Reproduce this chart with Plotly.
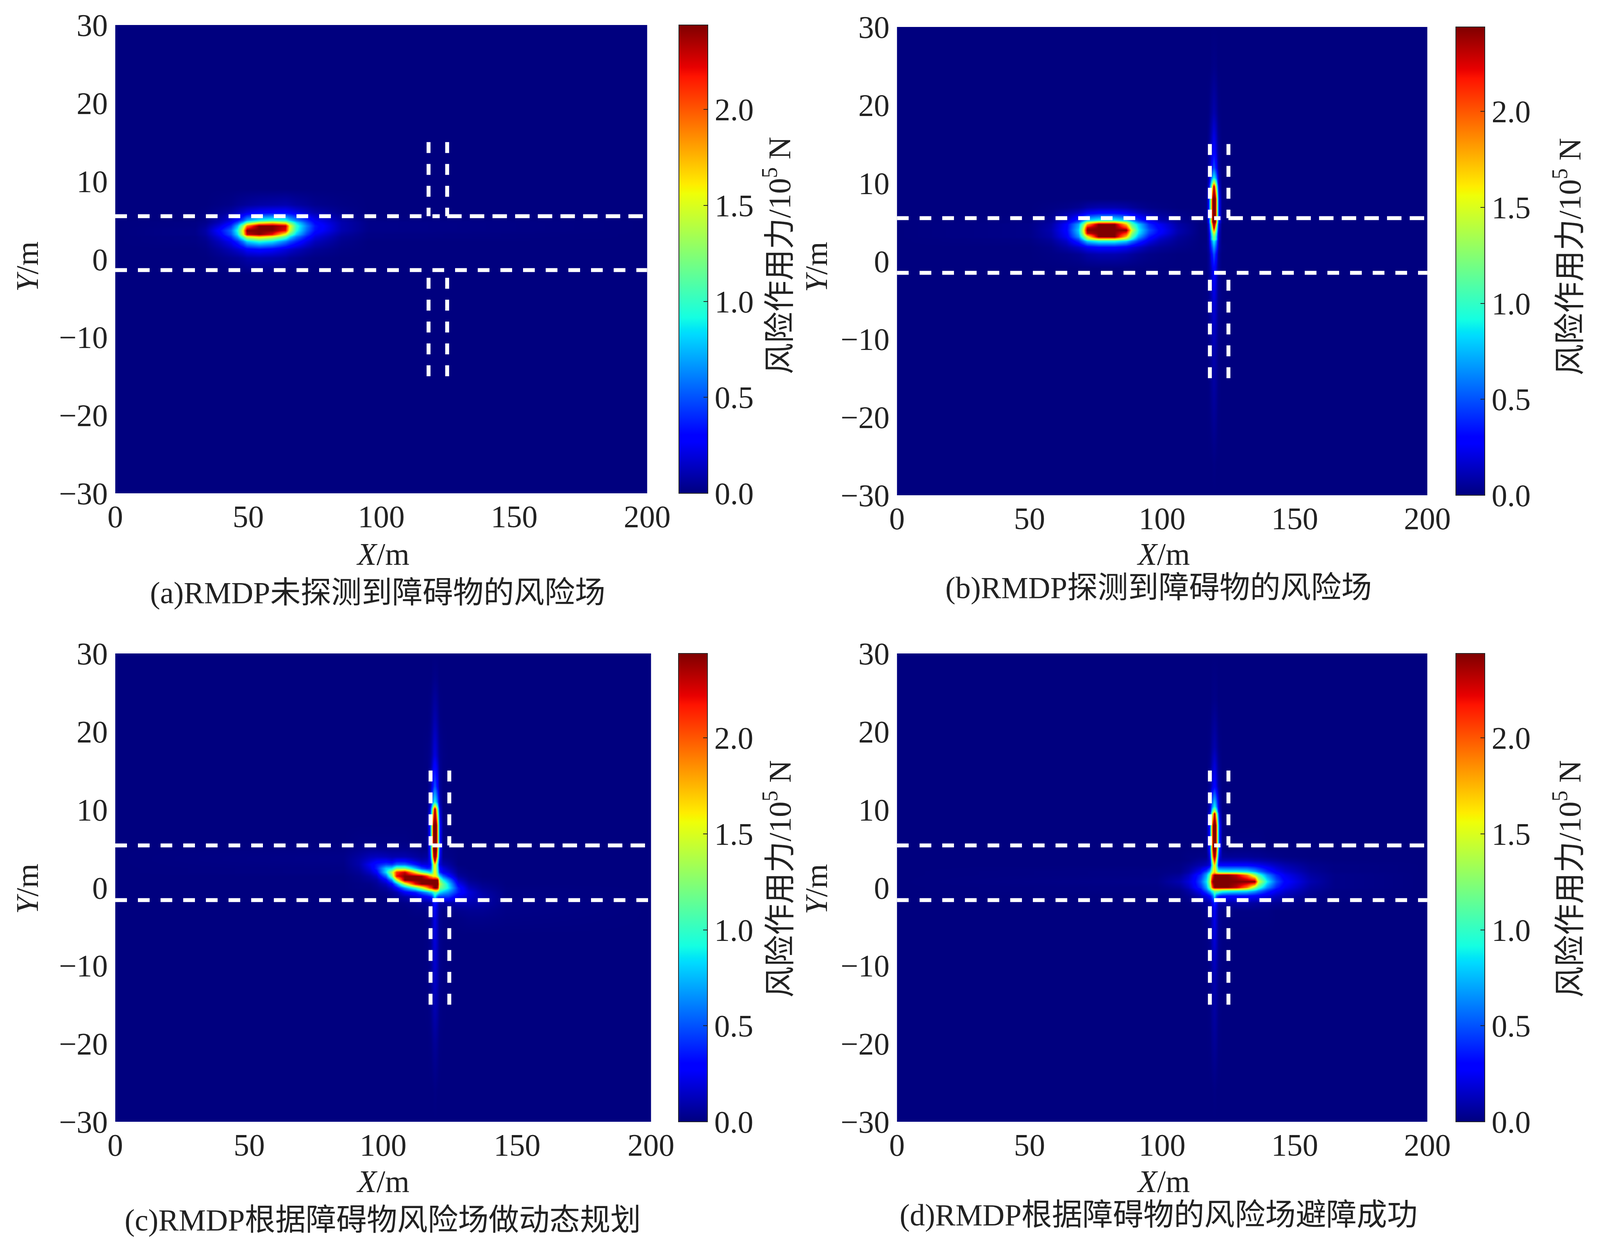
import plotly.graph_objects as go

# reference picture size, only used to turn pixel positions into fractions
W, H = 4151, 3208

# jet, same break points as matplotlib
jet = [[0, "rgb(0,0,127)"], [0.11, "rgb(0,0,255)"], [0.125, "rgb(0,0,255)"],
       [0.34, "rgb(0,219,255)"], [0.35, "rgb(0,229,247)"], [0.375, "rgb(20,255,226)"],
       [0.64, "rgb(239,255,8)"], [0.65, "rgb(247,246,0)"], [0.66, "rgb(255,236,0)"],
       [0.89, "rgb(255,20,0)"], [0.91, "rgb(232,0,0)"], [1, "rgb(127,0,0)"]]

x_ticks = [0, 50, 100, 150, 200]
y_ticks = [-30, -20, -10, 0, 10, 20, 30]
cb_ticks = [0, 0.5, 1, 1.5, 2]
captions = ["(a)RMDP未探测到障碍物的风险场", "(b)RMDP探测到障碍物的风险场",
            "(c)RMDP根据障碍物风险场做动态规划", "(d)RMDP根据障碍物的风险场避障成功"]

# road edges per panel: top y, bottom y, left lane x, right lane x
road_top = [5.5, 5.5, 5.4, 5.4]
road_bot = [-1.4, -1.5, -1.6, -1.6]
lane_l = [117.8, 118, 117.7, 118]
lane_r = [124.8, 125, 124.7, 125]

# panel a field
a_x = [0, 30, 34, 39, 43.5, 46, 48, 49.5, 54, 59, 64, 65.5, 68, 72, 75, 85, 95, 200]
a_y = [-30, -2, 0.2, 1.3, 2.3, 2.9, 3.2, 3.7, 4.3, 4.7, 5.0, 6.0, 7.0, 9, 30]
a_z = [
    [0] * 18,
    [0] * 18,
    [0, 0, 0, .02, .04, .05, .07, .09, .1, .09, .07, .05, .04, .02, .01, 0, 0, 0],
    [0, 0, .01, .06, .12, .17, .22, .28, .32, .28, .2, .17, .13, .08, .05, .01, 0, 0],
    [0, .01, .03, .13, .25, .4, .6, .8, .95, .85, .6, .5, .38, .22, .13, .03, 0, 0],
    [0, .01, .05, .2, .4, .7, 1.1, 1.5, 1.7, 1.5, 1.1, .85, .6, .35, .2, .05, .01, 0],
    [0, .02, .07, .25, .5, .85, 1.5, 2.3, 2.44, 2.2, 1.5, 1.15, .8, .45, .25, .07, .01, 0],
    [0, .02, .08, .3, .55, .95, 1.6, 2.44, 2.44, 2.44, 2.2, 1.5, .95, .55, .33, .1, .02, 0],
    [0, .01, .05, .2, .4, .75, 1.3, 1.9, 2.44, 2.44, 2.3, 1.6, 1.0, .6, .35, .1, .02, 0],
    [0, .01, .03, .13, .28, .5, .8, 1.15, 1.55, 1.7, 1.5, 1.2, .85, .5, .3, .1, .02, 0],
    [0, 0, .02, .1, .2, .33, .5, .7, .9, 1.0, .95, .8, .6, .4, .25, .08, .01, 0],
    [0, 0, .01, .04, .08, .13, .18, .22, .28, .3, .3, .27, .22, .15, .1, .03, 0, 0],
    [0, 0, 0, .01, .02, .04, .05, .06, .08, .09, .1, .09, .07, .05, .03, .01, 0, 0],
    [0] * 18,
    [0] * 18,
]

# cross sections of the narrow vertical streak, read at 13 columns
s000 = [0] * 13
s001 = [0, 0, 0, 0, 0, .005, .01, .005, 0, 0, 0, 0, 0]
s002 = [0, 0, 0, 0, .01, .015, .02, .015, .01, 0, 0, 0, 0]
s005 = [0, 0, .005, .01, .025, .04, .05, .04, .025, .01, .005, 0, 0]
s010 = [0, 0, .01, .03, .05, .08, .1, .08, .05, .03, .01, 0, 0]
s015 = [0, .005, .02, .05, .08, .12, .15, .12, .08, .05, .02, .005, 0]
s020 = [0, .01, .03, .06, .1, .16, .2, .16, .1, .06, .03, .01, 0]
s030 = [0, 0, .04, .08, .14, .24, .3, .24, .14, .08, .04, 0, 0]
s050 = [0, 0, .05, .12, .25, .38, .5, .38, .25, .12, .05, 0, 0]
s070 = [0, .01, .08, .22, .38, .55, .7, .55, .38, .22, .08, .01, 0]
s090 = [0, 0, .1, .3, .5, .75, .9, .75, .5, .3, .1, 0, 0]
s120 = [0, 0, .12, .35, .65, 1.0, 1.2, 1.0, .65, .35, .12, 0, 0]
s150 = [0, 0, .14, .4, .75, 1.2, 1.5, 1.2, .75, .4, .14, 0, 0]
s200 = [0, 0, .16, .5, .9, 1.5, 2.0, 1.5, .9, .5, .16, 0, 0]
s_tip = [0, 0, .18, .6, 1.0, 1.7, 2.44, 1.7, 1.0, .6, .18, 0, 0]
s_mid = [0, 0, .2, .7, 1.2, 2.1, 2.44, 2.1, 1.2, .7, .2, 0, 0]
s_full = [0, .02, .3, .9, 1.5, 2.44, 2.44, 2.44, 1.5, .9, .3, .02, 0]

# panel b field
b_x = [0, 50, 58, 64, 68.5, 70.2, 71.7, 76, 82, 86.5, 88.5, 91, 95, 99, 106,
       114.5, 116.6, 117.6, 118.05, 118.4, 118.95, 119.5, 120.05, 120.6, 120.95, 121.4, 122.5, 124.5,
       200]
b_y = [-30, -26, -20, -12, -5, -1, .9, 1.8, 2.6, 2.85, 3.15, 3.6, 4, 4.3, 4.75, 5.05, 5.25, 6.2, 6.9,
       8, 9.6, 10.1, 10.7, 12, 14, 19, 25, 30]
b0 = [0] * 15
b_left = [b0] * 6 + [
    [0, 0, .01, .02, .04, .06, .08, .1, .1, .08, .06, .04, .02, .01, 0],
    [0, 0, .02, .08, .15, .2, .25, .3, .3, .25, .2, .15, .08, .05, .02],
    [0, .01, .05, .16, .4, .6, .8, .95, .95, .8, .6, .42, .22, .12, .04],
    [0, .01, .06, .2, .5, .85, 1.3, 1.6, 1.6, 1.3, .9, .55, .28, .15, .05],
    [0, .02, .08, .25, .65, 1.1, 1.5, 2.44, 2.44, 1.7, 1.1, .7, .35, .2, .06],
    [0, .02, .09, .28, .75, 1.4, 2.3, 2.44, 2.44, 2.1, 1.3, .85, .45, .28, .09],
    [0, .02, .1, .3, .8, 1.5, 2.44, 2.44, 2.44, 2.44, 1.5, .9, .5, .3, .1],
    [0, .02, .09, .29, .75, 1.4, 2.3, 2.44, 2.44, 2.1, 1.3, .85, .45, .28, .09],
    [0, .02, .08, .28, .7, 1.2, 1.8, 2.44, 2.44, 1.7, 1.1, .8, .4, .25, .08],
    [0, .01, .06, .2, .5, .85, 1.3, 1.6, 1.6, 1.3, .9, .55, .3, .17, .05],
    [0, .01, .05, .16, .4, .6, .8, .95, .95, .8, .6, .42, .22, .12, .04],
    [0, 0, .02, .08, .15, .2, .25, .3, .3, .25, .2, .15, .08, .05, .02],
    [0, 0, .01, .02, .04, .06, .08, .1, .1, .08, .06, .04, .02, .01, 0],
] + [b0] * 9
b_mid = [s000, s001, s005, s010, s020, s030, s050, s070, s090, s120, s120, s150, s200, s_tip, s_mid,
         s_full, s_full, s_full, s_full, s_full, s_tip, s150, s090, s050, s030, s010, s002, s000]
b_z = [l + m + [0] for l, m in zip(b_left, b_mid)]

# panel c field
c_x = [0, 85, 91, 95, 97.5, 101, 103.3, 105, 108, 112,
       114.3, 116.3, 117.4, 117.85, 118.2, 118.75, 119.3, 119.85, 120.4, 120.75, 121.2, 122.3, 124.3,
       128, 132, 137, 146, 200]
c_y = [-30, -26, -20, -12, -6, -4, -3, -2, -1.2, -.6, 0, .5, 1, 1.5, 2, 2.5, 3, 3.5, 4, 5, 6,
       8, 10.1, 10.5, 11, 13, 17, 21.7, 27, 30]
c0 = [0] * 10
c_left = [c0] * 5 + [
    c0,
    [0, 0, 0, 0, 0, 0, 0, 0, 0, .01],
    [0, 0, 0, 0, 0, 0, .01, .01, .02, .03],
    [0, 0, 0, 0, 0, .01, .03, .05, .09, .15],
    [0, 0, 0, 0, .01, .03, .06, .1, .27, .38],
    [0, 0, .01, .01, .03, .07, .15, .3, .65, 1.05],
    [0, 0, .01, .02, .05, .14, .3, .65, 1.4, 2.2],
    [0, 0, .02, .05, .08, .28, .65, 1.4, 2.44, 2.44],
    [0, 0, .03, .08, .16, .55, 1.2, 2.2, 2.44, 2.44],
    [0, .01, .05, .15, .28, .85, 1.4, 2.1, 2.3, 1.6],
    [0, .01, .07, .21, .38, .8, .85, 1.2, 1.2, .75],
    [0, .015, .09, .25, .35, .45, .42, .55, .55, .35],
    [0, .02, .09, .18, .24, .25, .2, .28, .27, .15],
    [0, .02, .07, .12, .13, .12, .1, .1, .1, .07],
    [0, .01, .03, .04, .04, .03, .03, .03, .03, .02],
    [0, 0, .01, .01, .01, .01, .01, .01, .01, 0],
] + [c0] * 9
c_mid = [s000, s001, s005, s015, s020,
         [0, .01, .03, .06, .1, .16, .22, .16, .1, .06, .03, .01, 0],
         [.01, .02, .04, .07, .12, .18, .25, .18, .12, .07, .04, .01, .02],
         [.05, .06, .07, .1, .15, .24, .35, .24, .15, .1, .07, .07, .08],
         [.22, .28, .32, .36, .42, .6, .85, .6, .45, .42, .42, .42, .42],
         [.55, .7, .8, .82, .9, .98, 1.1, 1.15, 1.0, .95, .85, .75, .65],
         [1.4, 1.8, 2.05, 2.1, 2.2, 2.35, 2.44, 2.44, 2.3, 1.75, 1.2, 1.1, .9],
         [2.44, 2.44, 2.44, 2.44, 2.44, 2.44, 2.44, 2.44, 2.44, 1.9, 1.4, 1.15, .85],
         [2.44, 2.44, 2.44, 2.44, 2.44, 2.44, 2.44, 2.44, 2.4, 1.7, 1.2, .9, .65],
         [2.4, 2.1, 1.85, 1.8, 1.7, 1.6, 1.6, 1.5, 1.2, .95, .8, .55, .35],
         [1.15, .98, .85, .85, 1.0, 1.35, 1.6, 1.35, .95, .6, .4, .25, .2],
         [.5, .38, .4, .5, .85, 1.3, 1.55, 1.3, .85, .5, .3, .2, .12],
         [.2, .2, .25, .4, .8, 1.3, 1.7, 1.3, .8, .4, .2, .1, .07],
         [.1, .12, .25, .55, 1.0, 1.7, 2.44, 1.7, 1.0, .55, .2, .06, .04],
         [.05, .07, .25, .7, 1.3, 2.2, 2.44, 2.2, 1.3, .7, .25, .03, .02],
         [.01, .02, .3, .9, 1.5, 2.44, 2.44, 2.44, 1.5, .9, .3, .02, .01],
         s_full, s_full, s_tip, s150, s090, s050, s020, s010, s002, s000]
c_right = [[0] * 5] * 5 + [
    [.01, .02, .02, .01, 0],
    [.03, .04, .04, .015, 0],
    [.1, .1, .08, .02, 0],
    [.22, .17, .1, .01, 0],
    [.36, .19, .08, .01, 0],
    [.36, .13, .05, .005, 0],
    [.25, .08, .03, 0, 0],
    [.15, .04, .01, 0, 0],
    [.07, .02, 0, 0, 0],
    [.03, .01, 0, 0, 0],
    [.02, 0, 0, 0, 0],
] + [[0] * 5] * 14
c_z = [l + m + r for l, m, r in zip(c_left, c_mid, c_right)]

# panel d field
d_x = [0, 98, 106.5, 110, 112.3, 114.5,
       114.7, 116.7, 117.8, 118.25, 118.6, 119.15, 119.7, 120.25, 120.8, 121.15, 121.6, 122.7, 124.7,
       128, 132, 135, 136.3, 139.5, 143, 146.3, 156, 165, 200]
d_y = [-30, -26, -20, -12, -6, -3, -2, -1.1, -.45, -.2, .05, .8, 1.65, 1.9, 2.1, 2.9, 3.5, 4, 5,
       8, 9.5, 9.8, 10.4, 13, 18, 24, 30]
d0 = [0] * 6
d_left = [d0] * 6 + [
    [0, 0, 0, .01, .02, .03],
    [0, 0, .01, .04, .07, .12],
    [0, .01, .02, .08, .16, .25],
    [0, .01, .03, .1, .2, .3],
    [0, .01, .05, .14, .26, .4],
    [0, .02, .1, .2, .3, .5],
    [0, .01, .05, .14, .26, .4],
    [0, .01, .03, .1, .2, .3],
    [0, .01, .02, .08, .16, .25],
    [0, 0, .01, .04, .07, .1],
    [0, 0, 0, .01, .03, .05],
    [0, 0, 0, .01, .01, .02],
] + [d0] * 9
d_mid = [s000, s001, s005, s010, s020,
         [.01, .02, .04, .07, .12, .18, .25, .18, .12, .07, .04, .02, .01],
         [.04, .06, .08, .12, .18, .28, .4, .28, .18, .12, .08, .08, .08],
         [.14, .22, .3, .35, .42, .6, .9, .6, .45, .4, .35, .32, .3],
         [.3, .5, .7, .8, .9, 1.0, 1.2, 1.2, 1.2, 1.2, 1.1, 1.0, .95],
         [.35, .6, .9, 1.05, 1.2, 1.5, 1.6, 1.6, 1.6, 1.6, 1.6, 1.55, 1.5],
         [.42, .7, 1.1, 1.4, 1.8, 2.2, 2.44, 2.44, 2.44, 2.44, 2.44, 2.44, 2.44],
         [.55, .85, 1.3, 1.7, 2.2, 2.44, 2.44, 2.44, 2.44, 2.44, 2.44, 2.44, 2.44],
         [.42, .7, 1.1, 1.4, 1.8, 2.2, 2.44, 2.44, 2.44, 2.44, 2.44, 2.44, 2.44],
         [.35, .6, .9, 1.1, 1.4, 1.7, 1.8, 1.7, 1.6, 1.55, 1.5, 1.5, 1.5],
         [.3, .45, .7, .95, 1.2, 1.5, 1.7, 1.5, 1.2, 1.0, .95, .92, .9],
         [.1, .14, .2, .4, .8, 1.3, 1.7, 1.3, .8, .4, .3, .3, .3],
         [.05, .07, .15, .5, .95, 1.7, 2.2, 1.7, .95, .5, .15, .12, .12],
         [.02, .02, .2, .65, 1.2, 2.1, 2.44, 2.1, 1.2, .65, .2, .06, .05],
         s_full, s_full, s_tip, s150, s090, s030, s010, s002, s000]
d_right = [[0] * 10] * 5 + [
    [.01, .01, .01, .01, .01, 0, 0, 0, 0, 0],
    [.08, .08, .07, .06, .05, .04, .03, .01, 0, 0],
    [.3, .3, .27, .25, .2, .14, .1, .03, .01, 0],
    [.9, .85, .7, .6, .4, .25, .17, .05, .01, 0],
    [1.5, 1.3, 1.0, .8, .5, .3, .2, .06, .015, 0],
    [2.3, 1.9, 1.3, 1.05, .65, .38, .24, .07, .02, 0],
    [2.44, 2.44, 2.44, 1.5, .9, .5, .3, .1, .02, 0],
    [2.3, 1.9, 1.3, 1.05, .65, .38, .24, .07, .02, 0],
    [1.5, 1.3, 1.0, .8, .5, .3, .2, .06, .015, 0],
    [.9, .85, .7, .6, .4, .25, .17, .05, .01, 0],
    [.3, .3, .27, .25, .2, .14, .1, .03, .01, 0],
    [.12, .12, .1, .1, .08, .06, .04, .01, 0, 0],
    [.05, .05, .04, .04, .03, .02, .01, 0, 0, 0],
    [.01, .01, .01, .01, 0, 0, 0, 0, 0, 0],
] + [[0] * 10] * 8
d_z = [l + m + r for l, m, r in zip(d_left, d_mid, d_right)]

fields = [(a_x, a_y, a_z), (b_x, b_y, b_z), (c_x, c_y, c_z), (d_x, d_y, d_z)]

# pixel boxes of the plots: left, right, top, bottom
boxes = [(299, 1679, 64, 1263), (2327, 3703, 69, 1268), (299, 1689, 1673, 2872), (2327, 3703, 1673, 2872)]
cbar_left = [1761, 3777, 1760, 3777]
# pixel centres of the free texts
x_titles = [(993, 1419), (3018, 1419), (993, 3025), (3018, 3025)]
y_titles = [(71, 683), (2118, 683), (71, 2276), (2118, 2276)]
cb_titles = [(2017, 654), (4066, 657), (2017, 2250), (4066, 2250)]
cap_pos = [(980, 1517), (3006, 1504), (993, 3123), (3006, 3110)]

FONT = "Liberation Serif, Noto Sans CJK SC"
TICK = dict(family=FONT, size=80, color="#222222")

fig = go.Figure()
layout = dict(autosize=True, margin=dict(l=0, r=0, t=0, b=0, autoexpand=False), paper_bgcolor="white",
              plot_bgcolor="white", showlegend=False, annotations=[])


def note(text, pos, size, angle=0):
    layout["annotations"].append(dict(text=text, x=pos[0] / W, y=1 - pos[1] / H, xref="paper", yref="paper",
                                      showarrow=False, textangle=angle, xanchor="center", yanchor="middle",
                                      font=dict(family=FONT, size=size, color="#222222")))


def dashed(x, y, xa, ya, dash):
    fig.add_trace(go.Scatter(x=x, y=y, xaxis=xa, yaxis=ya, mode="lines", hoverinfo="skip",
                             line=dict(color="white", width=10, dash=dash)))


for i, (fx, fy, fz) in enumerate(fields):
    n = "" if i == 0 else str(i + 1)
    xa, ya = "x" + n, "y" + n
    left, right, top, bottom = boxes[i]
    layout["xaxis" + n] = dict(domain=[left / W, right / W], range=[0, 200], anchor=ya, tickvals=x_ticks,
                               showgrid=False, zeroline=False, showline=False, ticks="", tickfont=TICK,
                               ticklabelstandoff=6)
    layout["yaxis" + n] = dict(domain=[1 - bottom / H, 1 - top / H], range=[-30, 30], anchor=xa, tickvals=y_ticks,
                               showgrid=False, zeroline=False, showline=False, ticks="", tickfont=TICK,
                               ticklabelstandoff=18)
    fig.add_trace(go.Heatmap(x=fx, y=fy, z=fz, xaxis=xa, yaxis=ya, zmin=0, zmax=2.44, zsmooth="best",
                             colorscale=jet, hoverinfo="skip",
                             colorbar=dict(x=cbar_left[i] / W, xanchor="left", xpad=0, ypad=0,
                                           y=1 - bottom / H, yanchor="bottom", len=(bottom - top) / H,
                                           lenmode="fraction", thickness=74, thicknessmode="pixels",
                                           outlinecolor="#222222", outlinewidth=2, tickvals=cb_ticks,
                                           tickformat=".1f", ticks="inside", ticklen=12, tickwidth=2,
                                           tickcolor="#222222", tickfont=TICK)))
    dashed([0, 122], [road_top[i]] * 2, xa, ya, "30px,28px")
    dashed([lane_r[i], 200], [road_top[i]] * 2, xa, ya, "37px,21px")
    dashed([0, 200], [road_bot[i]] * 2, xa, ya, "30px,28px")
    for lane in (lane_l[i], lane_r[i]):
        dashed([lane, lane], [15, road_top[i]], xa, ya, "28px,28px")
        dashed([lane, lane], [-15, -2.2], xa, ya, "28px,28px")
    note("<i>X</i>/m", x_titles[i], 80)
    note("<i>Y</i>/m", y_titles[i], 80, -90)
    note("风险作用力/10<sup>5</sup> N", cb_titles[i], 80, -90)
    note(captions[i], cap_pos[i], 78)

fig.update_layout(**layout)
fig.write_html("out.html", config=dict(displayModeBar=False),
               post_script="document.body.style.margin='0';Plotly.Plots.resize(document.getElementById('{plot_id}'));")
